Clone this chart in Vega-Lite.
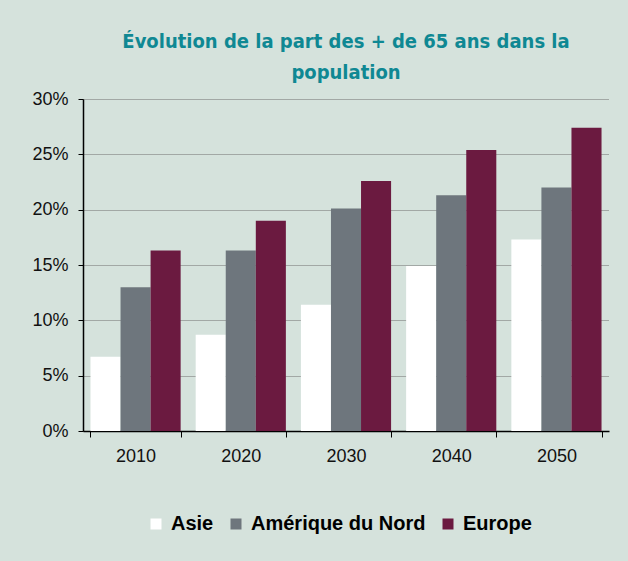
{
  "$schema": "https://vega.github.io/schema/vega-lite/v6.json",
  "autosize": "none",
  "width": 526,
  "height": 332,
  "padding": {"left": 83, "top": 99, "right": 19, "bottom": 130},
  "background": "#d5e2dc",
  "title": {
    "text": ["Évolution de la part des + de 65 ans dans la", "population"],
    "font": "DejaVu Sans Condensed, Liberation Sans",
    "fontSize": 20,
    "fontWeight": "bold",
    "color": "#0f8893",
    "anchor": "middle",
    "lineHeight": 31,
    "offset": 7
  },
  "data": {
    "values": [
      {"annee": "2010", "region": "Asie", "part": 0.067},
      {"annee": "2010", "region": "Amérique du Nord", "part": 0.130},
      {"annee": "2010", "region": "Europe", "part": 0.163},
      {"annee": "2020", "region": "Asie", "part": 0.087},
      {"annee": "2020", "region": "Amérique du Nord", "part": 0.163},
      {"annee": "2020", "region": "Europe", "part": 0.190},
      {"annee": "2030", "region": "Asie", "part": 0.114},
      {"annee": "2030", "region": "Amérique du Nord", "part": 0.201},
      {"annee": "2030", "region": "Europe", "part": 0.226},
      {"annee": "2040", "region": "Asie", "part": 0.149},
      {"annee": "2040", "region": "Amérique du Nord", "part": 0.213},
      {"annee": "2040", "region": "Europe", "part": 0.254},
      {"annee": "2050", "region": "Asie", "part": 0.173},
      {"annee": "2050", "region": "Amérique du Nord", "part": 0.220},
      {"annee": "2050", "region": "Europe", "part": 0.274}
    ]
  },
  "mark": {"type": "bar"},
  "encoding": {
    "x": {
      "field": "annee",
      "type": "nominal",
      "scale": {"paddingInner": 0.143, "paddingOuter": 0.071},
      "axis": {
        "title": null,
        "labelAngle": 0,
        "labelFont": "Liberation Sans",
        "labelFontSize": 18,
        "labelColor": "#111111",
        "labelPadding": 10,
        "tickBand": "extent",
        "tickColor": "#000000",
        "tickSize": 6,
        "domainColor": "#000000",
        "domainWidth": 1.5,
        "grid": false
      }
    },
    "xOffset": {
      "field": "region",
      "type": "nominal",
      "sort": ["Asie", "Amérique du Nord", "Europe"],
      "scale": {"paddingInner": 0, "paddingOuter": 0}
    },
    "y": {
      "field": "part",
      "type": "quantitative",
      "scale": {"domain": [0, 0.3], "nice": false},
      "axis": {
        "title": null,
        "format": ".0%",
        "values": [0, 0.05, 0.1, 0.15, 0.2, 0.25, 0.3],
        "labelFont": "Liberation Sans",
        "labelFontSize": 18,
        "labelColor": "#111111",
        "labelPadding": 10,
        "tickColor": "#000000",
        "tickSize": 5,
        "domainColor": "#000000",
        "domainWidth": 1.5,
        "gridColor": "#6f6f6f",
        "gridDash": [1, 1],
        "gridWidth": 1
      }
    },
    "color": {
      "field": "region",
      "type": "nominal",
      "sort": ["Asie", "Amérique du Nord", "Europe"],
      "scale": {
        "domain": ["Asie", "Amérique du Nord", "Europe"],
        "range": ["#ffffff", "#6e767d", "#6b1a40"]
      },
      "legend": {
        "title": null,
        "orient": "none",
        "legendX": 63,
        "legendY": 415,
        "direction": "horizontal",
        "symbolType": "square",
        "symbolSize": 121,
        "symbolStrokeWidth": 0,
        "symbolOpacity": 1,
        "labelFont": "Liberation Sans",
        "labelFontSize": 20,
        "labelFontWeight": "bold",
        "labelColor": "#000000",
        "labelOffset": 5,
        "labelLimit": 0,
        "columnPadding": 12
      }
    }
  },
  "config": {
    "view": {"stroke": null},
    "bar": {"stroke": null}
  }
}
